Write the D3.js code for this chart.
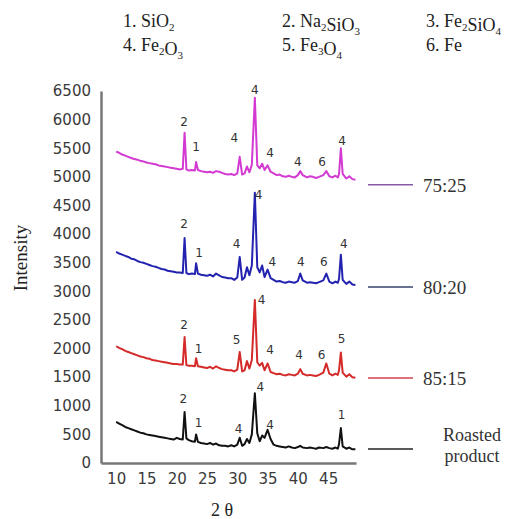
<!DOCTYPE html>
<html>
<head>
<meta charset="utf-8">
<script src="https://cdnjs.cloudflare.com/ajax/libs/d3/7.8.5/d3.min.js"></script>
<style>
body{margin:0;background:#fff}
</style>
</head>
<body>
<div id="chart"></div>
<script>
// 2 theta positions shared by all four patterns
var twoTheta = [
  10, 10.5, 11, 11.5, 12, 12.5, 13, 13.5, 14, 14.5,
  15, 15.5, 16, 16.5, 17, 17.5, 18, 18.5, 19, 19.5,
  20, 20.5, 21.0, 21.3, 21.6, 22, 22.5, 23.0, 23.2, 23.5,
  24, 24.5, 25, 25.5, 26, 26.5, 27, 27.5, 28, 28.5,
  29, 29.5, 30.0, 30.4, 30.8, 31.2, 31.6, 32.0, 32.4, 32.9,
  33.3, 33.7, 34.1, 34.5, 35.0, 35.5, 36, 36.5, 37, 37.5,
  38, 38.5, 39, 39.5, 40.0, 40.4, 40.8, 41.5, 42, 42.5,
  43, 43.5, 44.2, 44.7, 45.2, 45.7, 46.2, 46.6, 46.8, 47.1,
  47.4, 48.0, 48.5, 49.0, 49.5
];

var ratio75 = [
  5440, 5420, 5390, 5370, 5350, 5330, 5310, 5300, 5280, 5270,
  5250, 5240, 5230, 5220, 5200, 5190, 5180, 5170, 5160, 5150,
  5140, 5130, 5140, 5770, 5130, 5110, 5120, 5110, 5260, 5120,
  5100, 5090, 5080, 5090, 5070, 5100, 5090, 5070, 5050, 5040,
  5050, 5030, 5060, 5350, 5040, 5060, 5180, 5080, 5210, 6380,
  5200, 5150, 5230, 5120, 5200, 5090, 5060, 5030, 5040, 5010,
  5000, 5020, 5000, 4990, 5030, 5100, 5030, 4990, 5010, 5000,
  4980, 5000, 5030, 5100, 5010, 4990, 5020, 4990, 5050, 5500,
  5050, 4970, 5010, 4960, 4950
];

var ratio80 = [
  3690, 3660, 3640, 3620, 3600, 3570, 3560, 3530, 3510, 3500,
  3480, 3460, 3440, 3430, 3410, 3390, 3380, 3360, 3350, 3340,
  3330, 3330, 3320, 3930, 3320, 3300, 3310, 3300, 3490, 3310,
  3290, 3280, 3270, 3290, 3260, 3310, 3280, 3250, 3240, 3230,
  3230, 3200, 3240, 3600, 3200, 3240, 3420, 3280, 3450, 4720,
  3420, 3330, 3450, 3250, 3380, 3230, 3200, 3170, 3180, 3160,
  3150, 3170, 3160, 3150, 3180, 3310, 3190, 3150, 3160, 3150,
  3140, 3160, 3190, 3310, 3170, 3140, 3170, 3150, 3220, 3640,
  3200, 3130, 3170, 3120, 3110
];

var ratio85 = [
  2040, 2010, 1990, 1960, 1940, 1920, 1900, 1880, 1860, 1850,
  1830, 1820, 1800, 1790, 1780, 1770, 1760, 1750, 1740, 1730,
  1730, 1720, 1720, 2200, 1710, 1700, 1700, 1690, 1830, 1690,
  1680, 1670, 1660, 1680, 1650, 1690, 1660, 1640, 1630, 1620,
  1620, 1600, 1630, 1940, 1600, 1620, 1780, 1650, 1800, 2850,
  1760, 1700, 1750, 1620, 1740, 1590, 1570, 1550, 1560, 1540,
  1530, 1550, 1540, 1530, 1560, 1640, 1560, 1530, 1540, 1530,
  1520, 1540, 1580, 1740, 1560, 1530, 1560, 1540, 1620, 1930,
  1580, 1510, 1550, 1500, 1490
];

var roasted = [
  720, 690, 660, 630, 610, 590, 570, 550, 530, 520,
  500, 490, 480, 470, 460, 450, 440, 430, 420, 410,
  440, 420, 410, 890, 430, 400, 380, 370, 500, 370,
  350, 340, 330, 350, 320, 340, 310, 300, 300, 290,
  310, 290, 320, 440, 300, 330, 420, 350, 500, 1220,
  520, 380, 480, 440, 580, 420, 320, 300, 290, 280,
  270, 290, 270, 260, 280, 300, 270, 260, 270, 260,
  250, 270, 260, 280, 260, 250, 270, 250, 330, 610,
  290, 250, 270, 240, 240
];

// peak markers: [2theta, intensity, phase number]
var peaks75 = [[21.2,5960,"2"],[23.2,5520,"1"],[29.5,5680,"4"],[32.9,6520,"4"],[35.4,5430,"4"],[40.0,5260,"4"],[44.0,5260,"6"],[47.3,5640,"4"]];
var peaks80 = [[21.2,4176,"2"],[23.7,3682,"1"],[29.9,3827,"4"],[33.5,4683,"4"],[35.8,3517,"4"],[40.5,3517,"4"],[44.3,3517,"6"],[47.6,3839,"4"]];
var peaks85 = [[21.2,2411,"2"],[23.6,1992,"1"],[29.9,2149,"5"],[34.0,2848,"4"],[35.4,1974,"4"],[40.2,1887,"4"],[43.9,1887,"6"],[47.2,2179,"5"]];
var peaksRoasted = [[21.1,1118,"2"],[23.6,700,"1"],[30.2,606,"4"],[33.8,1333,"4"],[35.4,664,"4"],[47.2,840,"1"]];

var seriesNames = ["75:25", "80:20", "85:15", "Roasted product"];
var legendLevels = [4860, 3075, 1485, 245];
var xTicks = [10, 15, 20, 25, 30, 35, 40, 45];
var yTicks = [0, 500, 1000, 1500, 2000, 2500, 3000, 3500, 4000, 4500, 5000, 5500, 6000, 6500];
var phases = ["1. SiO_2", "2. Na_2SiO_3", "3. Fe_2SiO_4", "4. Fe_2O_3", "5. Fe_3O_4", "6. Fe"];

var width = 513, height = 519;
var svg = d3.select("#chart").append("svg")
  .attr("width", width).attr("height", height)
  .style("font-family", "'Liberation Serif','Times New Roman',serif");

var x = d3.scaleLinear().domain([7.5, 49.6]).range([101, 356]);
var y = d3.scaleLinear().domain([0, 6500]).range([463, 91]);

var series = [
  {name: seriesNames[0], values: ratio75, peaks: peaks75, color: "#d23ad2", key: "#8a58a8"},
  {name: seriesNames[1], values: ratio80, peaks: peaks80, color: "#2323b0", key: "#34456a"},
  {name: seriesNames[2], values: ratio85, peaks: peaks85, color: "#d42a2a", key: "#d0404a"},
  {name: seriesNames[3], values: roasted, peaks: peaksRoasted, color: "#111111", key: "#222222"}
];

// axes
var xAxis = svg.append("g")
  .attr("transform", "translate(0," + y(0) + ")")
  .call(d3.axisBottom(x).tickValues(xTicks).tickSize(0).tickPadding(10).tickFormat(d3.format("d")));
var yAxis = svg.append("g")
  .attr("transform", "translate(" + x(7.5) + ",0)")
  .call(d3.axisLeft(y).tickValues(yTicks).tickSize(0).tickPadding(10).tickFormat(d3.format("d")));

[xAxis, yAxis].forEach(function (g) {
  g.select(".domain").attr("stroke", "#777").attr("stroke-width", 2.5);
  g.selectAll("text")
    .style("font-family", "'DejaVu Sans',sans-serif")
    .style("font-size", "15px")
    .attr("fill", "#3a3a3a");
});

// patterns
var line = d3.line()
  .x(function (d) { return x(d[0]); })
  .y(function (d) { return y(d[1]); });

svg.selectAll(".pattern")
  .data(series)
  .join("path")
  .attr("class", "pattern")
  .attr("d", function (d) { return line(d3.zip(twoTheta, d.values)); })
  .attr("fill", "none")
  .attr("stroke", function (d) { return d.color; })
  .attr("stroke-width", 2)
  .attr("stroke-linejoin", "round");

// peak numbers
series.forEach(function (s) {
  svg.selectAll(null)
    .data(s.peaks)
    .join("text")
    .attr("x", function (d) { return x(d[0]); })
    .attr("y", function (d) { return y(d[1]); })
    .attr("dy", "0.36em")
    .attr("text-anchor", "middle")
    .style("font-family", "'DejaVu Sans',sans-serif")
    .style("font-size", "12px")
    .attr("fill", "#333")
    .text(function (d) { return d[2]; });
});

// series keys on the right
var keys = svg.selectAll(".key")
  .data(series)
  .join("g")
  .attr("class", "key")
  .attr("transform", function (d, i) { return "translate(0," + y(legendLevels[i]) + ")"; });

keys.append("line")
  .attr("x1", 368).attr("x2", 413)
  .attr("stroke", function (d) { return d.key; })
  .attr("stroke-width", 1.5);

keys.each(function (d) {
  var g = d3.select(this);
  var words = d.name.split(" ");
  if (words.length == 1) {
    g.append("text").attr("x", 423).attr("dy", "0.35em")
      .style("font-size", "19px").attr("fill", "#333").text(d.name);
  } else {
    g.append("text").attr("x", 472).attr("y", -8).attr("text-anchor", "middle")
      .style("font-size", "18px").attr("fill", "#333").text(words[0]);
    g.append("text").attr("x", 472).attr("y", 13).attr("text-anchor", "middle")
      .style("font-size", "18px").attr("fill", "#333").text(words[1]);
  }
});

// phase list at the top
var colX = [123, 282, 426], rowY = [27, 51];
phases.forEach(function (p, i) {
  var t = svg.append("text")
    .attr("x", colX[i % 3]).attr("y", rowY[Math.floor(i / 3)])
    .style("font-size", "18px").attr("fill", "#222");
  p.split(/(_\d)/).forEach(function (part) {
    if (!part) return;
    if (part[0] == "_") {
      t.append("tspan").attr("dy", 4).style("font-size", "11px").text(part.slice(1));
      t.append("tspan").attr("dy", -4).text("");
    } else {
      t.append("tspan").text(part);
    }
  });
});

// axis titles
svg.append("text")
  .attr("transform", "translate(20,258) rotate(-90)")
  .attr("text-anchor", "middle").attr("dy", "0.35em")
  .style("font-size", "19px").attr("fill", "#222")
  .text("Intensity");

svg.append("text")
  .attr("x", 222).attr("y", 516)
  .attr("text-anchor", "middle")
  .style("font-size", "18px").attr("fill", "#222")
  .text("2 θ");
</script>
</body>
</html>
